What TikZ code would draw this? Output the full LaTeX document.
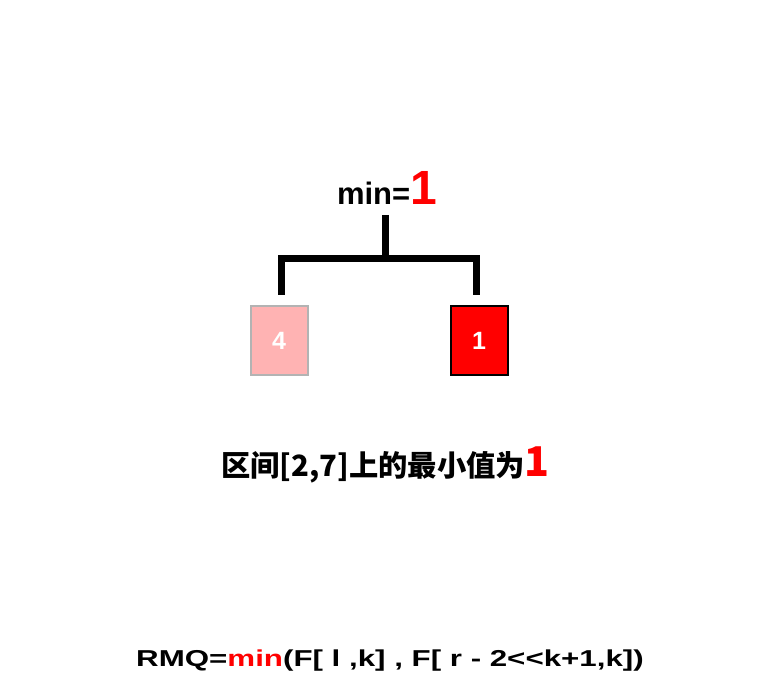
\documentclass[tikz,border=0pt]{standalone}
\usepackage{fontspec}
\setmainfont{Liberation Sans}
\newfontfamily\cjk{Noto Sans CJK SC}
\newfontfamily\widesans{Liberation Sans}[FakeStretch=1.36]
\definecolor{lightred}{HTML}{FFB3B3}
\definecolor{boxgray}{HTML}{B3B3B3}
\begin{document}
\begin{tikzpicture}[x=1pt, y=-1pt, font=\bfseries]
      \useasboundingbox (0,0) rectangle (758,684); % Page frame
      \tikzset{valbox/.style={minimum width=57pt, minimum height=69pt, inner sep=0pt, line width=2pt, text=white, font=\bfseries\fontsize{25}{25}\selectfont}}
      \node[valbox, fill=lightred, draw=boxgray] (left) at (279,341) {4};
      \node[valbox, fill=red, draw=black] (right) at (479,341) {1};
      \node[anchor=base, font=\bfseries\fontsize{31}{31}\selectfont] (minlbl) at (387,205) {min=\textcolor{red}{\fontsize{48}{48}\selectfont 1}};
      \coordinate (stemtop) at (385,215);
      \coordinate (bar) at (385,259);
      \coordinate (lleg) at (281,295);
      \coordinate (rleg) at (476.5,295);
      \draw[line width=7pt] (stemtop) -- (bar);
      \draw[line width=7pt] (lleg) |- (bar) -| (rleg);
      \node[anchor=base, font=\cjk\bfseries\fontsize{29.3}{29.3}\selectfont] (range) at (385.5,477) {区间[2,7]上的最小值为\textcolor{red}{\fontsize{41}{41}\selectfont 1}};
      \node[anchor=base, font=\widesans\bfseries\fontsize{23}{23}\selectfont] (rmq) at (390,666) {RMQ=\textcolor{red}{min}(F[ l ,k] , F[ r - 2<{}<k+1,k])};
  \end{tikzpicture}
\end{document}
